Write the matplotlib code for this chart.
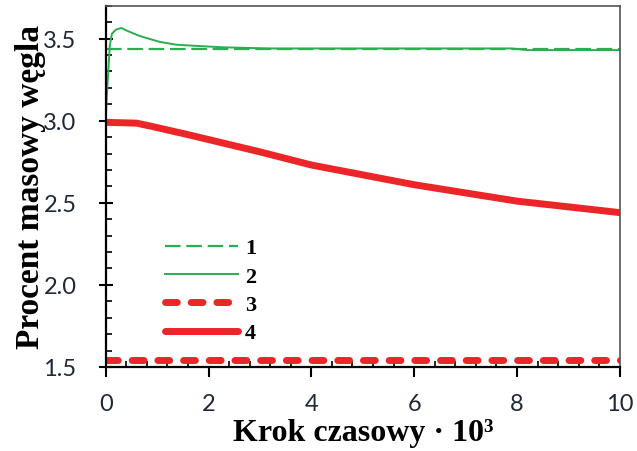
import matplotlib
matplotlib.use("Agg")
import matplotlib.pyplot as plt
from matplotlib.ticker import MultipleLocator, FormatStrFormatter

# data
x_flat = [0, 10]
s1 = [3.435, 3.435]          # 1: green dashed
s3 = [1.54, 1.54]            # 3: red dashed

x2 = [0, 0.02, 0.05, 0.08, 0.12, 0.2, 0.3, 0.4, 0.66, 1.05, 1.37, 1.63, 2.28, 3.2, 5, 7.9, 8.2, 10]
s2 = [3.0, 3.15, 3.3, 3.46, 3.53, 3.555, 3.565, 3.55, 3.516, 3.48, 3.463, 3.458, 3.447, 3.44, 3.44, 3.44, 3.43, 3.43]

x4 = [0, 0.6, 0.9, 1.6, 2.6, 3, 4, 5, 6, 7, 8, 9, 10]
s4 = [2.99, 2.985, 2.965, 2.915, 2.84, 2.81, 2.73, 2.67, 2.61, 2.56, 2.51, 2.475, 2.44]

labels = ["1", "2", "3", "4"]

green = "#2aae4f"
red = "#ec2529"

fig = plt.figure(figsize=(6.37, 4.52), dpi=100)
ax = fig.add_axes([0.166, 0.186, 0.807, 0.799])

ax.plot(x_flat, s1, color=green, lw=1.6, dashes=(7, 2.6), label=labels[0])
ax.plot(x2, s2, color=green, lw=1.4, label=labels[1])
ax.plot(x_flat, s3, color=red, lw=5, dashes=(1.7, 2.0), dash_capstyle="round", label=labels[2])
ax.plot(x4, s4, color=red, lw=5, solid_capstyle="round", label=labels[3])

ax.set_xlim(0, 10)
ax.set_ylim(1.5, 3.7)
ax.xaxis.set_major_locator(MultipleLocator(2))
ax.xaxis.set_minor_locator(MultipleLocator(0.4))
ax.yaxis.set_major_locator(MultipleLocator(0.5))
ax.yaxis.set_minor_locator(MultipleLocator(0.1))
ax.yaxis.set_major_formatter(FormatStrFormatter("%.1f"))

ax.tick_params(which="major", direction="out", length=7, width=1.5, labelsize=17,
               colors="black", labelcolor="#1e2838")
ax.tick_params(axis="x", which="major", pad=12)
ax.tick_params(axis="y", which="major", direction="inout", length=10, pad=16)
ax.tick_params(which="minor", direction="in", length=4, width=1.2)
for lab in ax.get_xticklabels() + ax.get_yticklabels():
    lab.set_family("Lato")

for s in ["left", "bottom"]:
    ax.spines[s].set_linewidth(1.6)
    ax.spines[s].set_color("black")
for s in ["top", "right"]:
    ax.spines[s].set_linewidth(1.2)
    ax.spines[s].set_color("#555555")

ax.set_xlabel("Krok czasowy · 10³", family="Liberation Serif", weight="bold", fontsize=23, labelpad=3)
ax.set_ylabel("Procent masowy węgla", family="Liberation Serif", weight="bold", fontsize=24, labelpad=-2)

leg = ax.legend(loc="lower left", bbox_to_anchor=(0.115, 0.065), borderpad=0, borderaxespad=0,
                frameon=False, handlelength=3.3, handletextpad=0.3, labelspacing=0.35,
                prop={"family": "Liberation Serif", "weight": "bold", "size": 16})

fig.savefig("out.png", dpi=100)
